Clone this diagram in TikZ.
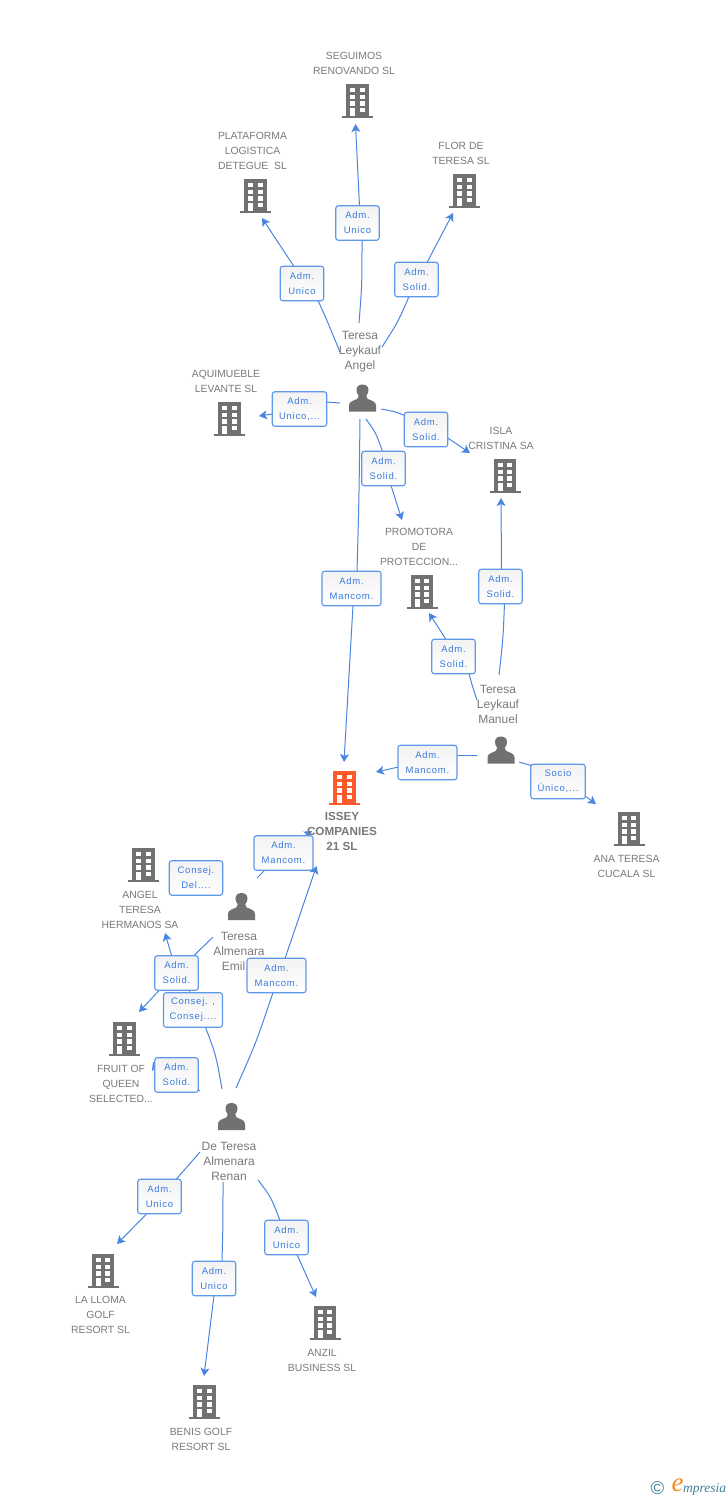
\documentclass[tikz,border=0pt]{standalone}
\usepackage{fontspec}
\setmainfont{Liberation Sans}
\newfontfamily\boxfont[LetterSpace=8]{Liberation Sans}
\newfontfamily\logofont{Liberation Serif}
\usetikzlibrary{arrows.meta,calc}
\pgfdeclarelayer{background}
\pgfsetlayers{background,main}
\definecolor{edgeblue}{HTML}{4A86E0}
\definecolor{boxblue}{HTML}{5E98E8}
\definecolor{boxtext}{HTML}{3A7BDE}
\definecolor{icongrey}{HTML}{717171}
\definecolor{labelgrey}{HTML}{7A7A7A}
\definecolor{accent}{HTML}{FF5A2C}
\definecolor{logoteal}{HTML}{3F7F99}
\definecolor{logoorange}{HTML}{F58A1F}
\tikzset{
  edge/.style={draw=edgeblue,line width=1pt},
  arr/.style={-{Stealth[length=8pt,width=9pt,inset=2pt]}},
  relbox/.style={draw=boxblue,line width=1.1pt,rounded corners=2.5pt,top color=black!5,bottom color=white,
     text=boxtext,inner sep=0pt,minimum height=34.5pt,align=center,font=\boxfont\fontsize{9.5}{15}\selectfont},
  companytext/.style={text=labelgrey,align=center,inner sep=0pt,yshift=-1pt,font=\fontsize{10.4}{15}\selectfont},
  persontext/.style={text=labelgrey,align=center,inner sep=0pt,yshift=-2pt,font=\fontsize{12}{15}\selectfont},
  maintext/.style={text=labelgrey,align=center,inner sep=0pt,font=\bfseries\fontsize{11.7}{15}\selectfont},
  iconanchor/.style={inner sep=0pt,minimum width=31pt,minimum height=34pt},
  buildingicon/.pic={
    \fill[pic actions] (-11.3,-17) rectangle (11.2,15);
    \fill[pic actions] (-15.5,14.6) rectangle (15.8,17);
    \fill[white] (-7.3,-13) rectangle (-2.5,-8.7);
    \fill[white] (2,-13) rectangle (7,-8.7);
    \fill[white] (-7.3,-6.3) rectangle (-2.5,-2);
    \fill[white] (2,-6.3) rectangle (7,-2);
    \fill[white] (-7.3,0.3) rectangle (-2.5,4.7);
    \fill[white] (2,0.3) rectangle (7,4.7);
    \fill[white] (-7.3,7) rectangle (-2.5,15);
    \fill[white] (2,7) rectangle (7,11.3);
  },
  personicon/.pic={
    \fill[pic actions] (-13.5,13.5) -- (-13.5,7.5) .. controls (-13.5,3.5) and (-9,2.8) .. (-5,0.8)
      .. controls (-3.8,0) and (-3.6,-1) .. (-3.8,-2.2)
      .. controls (-5.4,-3.8) and (-6,-6.5) .. (-6,-8.2)
      .. controls (-6,-11.5) and (-3.5,-13.5) .. (0,-13.5)
      .. controls (3.5,-13.5) and (6,-11.5) .. (6,-8.2)
      .. controls (6,-6.5) and (5.4,-3.8) .. (3.8,-2.2)
      .. controls (3.6,-1) and (3.8,0) .. (5,0.8)
      .. controls (9,2.8) and (13.5,3.5) .. (13.5,7.5) -- (13.5,13.5) -- cycle;
  }
}
% name, centre, pic colour
\newcommand\bldg[3]{\node[iconanchor] (#1) at (#2) {}; \pic[fill=#3] at (#1.center) {buildingicon};}
\newcommand\pers[2]{\node[iconanchor] (#1) at (#2) {}; \pic[fill=icongrey] at (#1.center) {personicon};}
% box, start, control, entry shift, exit shift, tip
\newcommand\lnk[6]{%
  \coordinate (#1s) at (#2);
  \coordinate (#1t) at (#6);
  \draw[edge] (#1s) .. controls (#3) .. ([shift={(#4)}]#1.center);
  \draw[edge,arr] ([shift={(#5)}]#1.center) -- (#1t);}
\begin{document}
\begin{tikzpicture}[x=1pt,y=-1pt]
\useasboundingbox (0,0) rectangle (728,1500);
\begin{pgfonlayer}{background}
\fill[white] (0,0) rectangle (728,1500);
\end{pgfonlayer}
% company icons
\bldg{seg}{357.5,101}{icongrey}
\bldg{pla}{255.5,196}{icongrey}
\bldg{flo}{464.5,191}{icongrey}
\bldg{aqu}{229.5,419}{icongrey}
\bldg{isl}{505,476}{icongrey}
\bldg{pro}{422,592}{icongrey}
\bldg{iss}{344.5,788}{accent}
\bldg{ana}{629,829}{icongrey}
\bldg{ang}{143.5,865}{icongrey}
\bldg{fru}{124.5,1039}{icongrey}
\bldg{llo}{103,1271}{icongrey}
\bldg{ben}{204.5,1402}{icongrey}
\bldg{anz}{325,1323}{icongrey}
% person icons
\pers{pa}{362.5,398}
\pers{pm}{501,750}
\pers{pe}{241.5,906.5}
\pers{pr}{231.5,1116.5}
% company labels
\node[companytext] (tseg) at (354,62.5) {SEGUIMOS\\RENOVANDO SL};
\node[companytext] (tpla) at (252.5,150) {PLATAFORMA\\LOGISTICA\\DETEGUE\ \ SL};
\node[companytext] (tflo) at (461,152.5) {FLOR DE\\TERESA SL};
\node[companytext] (taqu) at (226,380.5) {AQUIMUEBLE\\LEVANTE SL};
\node[companytext] (tisl) at (501,437.5) {ISLA\\CRISTINA SA};
\node[companytext] (tpro) at (419,546) {PROMOTORA\\DE\\PROTECCION...};
\node[maintext] (tiss) at (342,831) {ISSEY\\COMPANIES\\21 SL};
\node[companytext] (tana) at (626.5,865.5) {ANA TERESA\\CUCALA SL};
\node[companytext] (tang) at (140,909) {ANGEL\\TERESA\\HERMANOS SA};
\node[companytext] (tfru) at (121,1083) {FRUIT OF\\QUEEN\\SELECTED...};
\node[companytext] (tllo) at (100.5,1314) {LA LLOMA\\GOLF\\RESORT SL};
\node[companytext] (tben) at (201,1438.5) {BENIS GOLF\\RESORT SL};
\node[companytext] (tanz) at (322,1359.5) {ANZIL\\BUSINESS SL};
% person labels
\node[persontext] (tpa) at (360,350) {Teresa\\Leykauf\\Angel};
\node[persontext] (tpm) at (498,702) {Teresa\\Leykauf\\Manuel};
\node[persontext] (tpe) at (239,949) {Teresa\\Almenara\\Emil\hspace{11pt}\mbox{}};
\node[persontext] (tpr) at (229,1159) {De Teresa\\Almenara\\Renan};
% relation boxes
\node[relbox,minimum width=43.5pt] (b1) at (302,283.5) {Adm.\\Unico};
\node[relbox,minimum width=43.5pt] (b2) at (357.5,223) {Adm.\\Unico};
\node[relbox,minimum width=43.5pt] (b3) at (416.5,279.5) {Adm.\\Solid.};
\node[relbox,minimum width=54.5pt] (b4) at (299.5,409) {Adm.\\Unico,...};
\node[relbox,minimum width=43.5pt] (b5) at (426,429.5) {Adm.\\Solid.};
\node[relbox,minimum width=43.5pt] (b6) at (383.5,468.5) {Adm.\\Solid.};
\node[relbox,minimum width=59pt] (b7) at (351.5,588.5) {Adm.\\Mancom.};
\node[relbox,minimum width=43.5pt] (b8) at (500.5,586.5) {Adm.\\Solid.};
\node[relbox,minimum width=43.5pt] (b9) at (453.5,656.5) {Adm.\\Solid.};
\node[relbox,minimum width=59pt] (b10) at (427.5,762.5) {Adm.\\Mancom.};
\node[relbox,minimum width=54.5pt] (b11) at (558,781.5) {Socio\\Único,...};
\node[relbox,minimum width=59pt] (b12) at (283.5,853) {Adm.\\Mancom.};
\node[relbox,minimum width=53.5pt] (b13) at (196,878) {Consej.\\Del....};
\node[relbox,minimum width=43.5pt] (b14) at (176.5,973) {Adm.\\Solid.};
\node[relbox,minimum width=59pt] (b15) at (193,1010) {Consej. ,\\Consej....};
\node[relbox,minimum width=43.5pt] (b16) at (176.5,1075) {Adm.\\Solid.};
\node[relbox,minimum width=59pt] (b17) at (276.5,975.5) {Adm.\\Mancom.};
\node[relbox,minimum width=43.5pt] (b18) at (159.5,1196.5) {Adm.\\Unico};
\node[relbox,minimum width=43.5pt] (b19) at (214,1278.5) {Adm.\\Unico};
\node[relbox,minimum width=43.5pt] (b20) at (286.5,1237.5) {Adm.\\Unico};
% connectors
\begin{pgfonlayer}{background}
\lnk{b1}{340,352}{326,318}{16,17}{-8,-17}{262,218}
\lnk{b2}{359,323}{362,285}{4.5,17}{2,-17}{355.5,124}
\lnk{b3}{382,347}{398,322}{-7.5,17}{10.5,-17}{453,213}
\lnk{b4}{340,403}{333,403}{27,-7}{-27,5}{259,416}
\lnk{b5}{381,409}{393,411}{-21,-14}{21,8}{470,453}
\lnk{b6}{366,419}{376,433}{-1,-17}{7.5,17}{402,520}
\lnk{b7}{360,419}{359,500}{5.5,-17}{1.5,17}{344,762}
\lnk{b8}{499,675}{503,640}{4,17}{1,-17}{501,498}
\lnk{b9}{477,700}{472,685}{15.5,17}{-7.5,-17}{429,613}
\lnk{b10}{477,755}{467,755}{29,-7.5}{-29,4.5}{376,772}
\lnk{b11}{519,762}{525,763}{-27,-16}{27,14.5}{596,804}
\lnk{b12}{257,878}{261,874}{-17.5,16}{19.5,-16}{312,831}
\lnk{b14}{213,937}{203,946}{17,-17}{-4.5,-16}{165,933}
\coordinate (b14f) at (139,1012);
\draw[edge,arr] ([shift={(-17,17)}]b14.center) -- (b14f);
\coordinate (b15s) at (222,1089);
\draw[edge] (b15s) .. controls (216,1055) .. ([shift={(12,16)}]b15.center);
\draw[edge] ([shift={(-4,-16)}]b15.center) -- ([shift={(12.5,16)}]b14.center);
\lnk{b16}{200,1091}{198,1089}{20,13}{-18,0}{153,1062}
\lnk{b17}{236,1088}{256,1043}{-3.5,17}{8.5,-17}{316.5,866}
\lnk{b18}{200,1152}{188,1165}{16.5,-17}{-12.5,17}{117,1244}
\lnk{b19}{223,1182}{223,1225}{8,-17}{0,17}{204,1376}
\lnk{b20}{258,1180}{271,1197}{-6.5,-17}{10.5,17}{316,1297}
\end{pgfonlayer}
% logo
\node[text=logoteal,inner sep=0pt,font=\fontsize{18.5}{18.5}\selectfont] (lc) at (657.5,1488.5) {©};
\node[text=logoorange,inner sep=0pt,font=\logofont\itshape\fontsize{27}{27}\selectfont] (le) at (677.5,1485) {e};
\node[text=logoteal,inner sep=0pt,anchor=west,font=\logofont\itshape\fontsize{13.5}{14}\selectfont] (lm) at (683,1489) {mpresia};
\end{tikzpicture}
\end{document}
